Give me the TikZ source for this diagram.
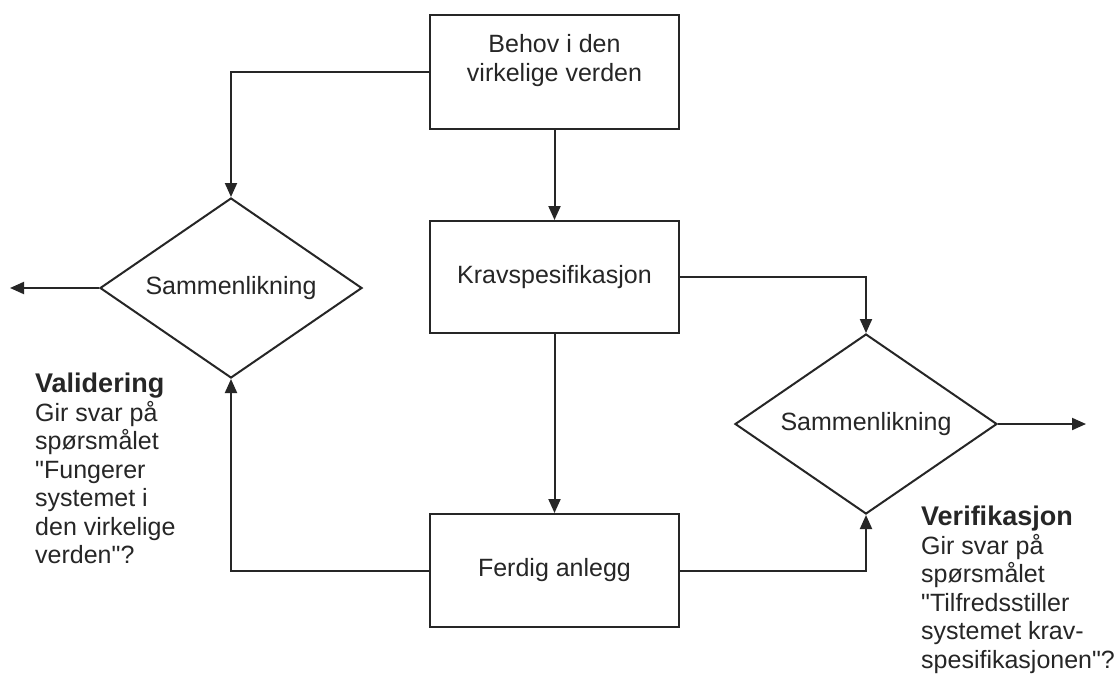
\documentclass[tikz,border=0pt]{standalone}
\usepackage{fontspec}
\setmainfont{Liberation Sans}
\usetikzlibrary{shapes.geometric,arrows.meta}
\definecolor{ink}{HTML}{262626}
\newcommand\qdbl{{\XeTeXglyph\XeTeXcharglyph"22\relax}}
\begin{document}
\begin{tikzpicture}[x=1pt,y=-1pt,
  box/.style={draw=ink,line width=2pt,minimum width=249pt,inner sep=0pt,
    text=ink,font=\fontsize{25}{29}\selectfont,align=center},
  dia/.style={diamond,draw=ink,line width=2pt,minimum width=262pt,minimum height=180pt,
    inner sep=0pt,aspect=1.456,text=ink,font=\fontsize{25}{29}\selectfont},
  arr/.style={draw=ink,line width=2pt,-{Triangle[length=14pt,width=12pt]}},
  note/.style={text=ink,font=\fontsize{25}{28.5}\selectfont,align=left,inner sep=0pt,anchor=north west}
]
\useasboundingbox (0,0) rectangle (1116,673);
\fill[white] (0,0) rectangle (1116,673);

\node[box,minimum height=114pt] (behov) at (554.5,72) {Behov i den\\virkelige verden\\\mbox{}};
\node[box,minimum height=112pt] (krav) at (554.5,277) {Kravspesifikasjon};
\node[box,minimum height=113pt] (ferdig) at (554.5,570.5) {Ferdig anlegg};

\node[dia] (dL) at (231,288) {Sammenlikning};
\node[dia] (dR) at (866,424) {Sammenlikning};

\coordinate (outL) at (10,288);
\coordinate (outR) at (1086,424);

\draw[arr] (behov.west) -| (dL.north);
\draw[arr] (behov.south) -- (krav.north);
\draw[arr] (dL.west) -- (outL);
\draw[arr] (krav.east) -| (dR.north);
\draw[arr] (krav.south) -- (ferdig.north);
\draw[arr] (ferdig.west) -| (dL.south);
\draw[arr] (ferdig.east) -| (dR.south);
\draw[arr] (dR.east) -- (outR);

\node[note] (val) at (35,373) {{\fontsize{27}{29}\selectfont\bfseries Validering}\\Gir svar på\\spørsmålet\\\qdbl Fungerer\\systemet i\\den virkelige\\verden\qdbl?};
\node[note] (ver) at (921,506) {{\fontsize{27}{29}\selectfont\bfseries Verifikasjon}\\Gir svar på\\spørsmålet\\\qdbl Tilfredsstiller\\systemet krav-\\spesifikasjonen\qdbl?};
\end{tikzpicture}
\end{document}
